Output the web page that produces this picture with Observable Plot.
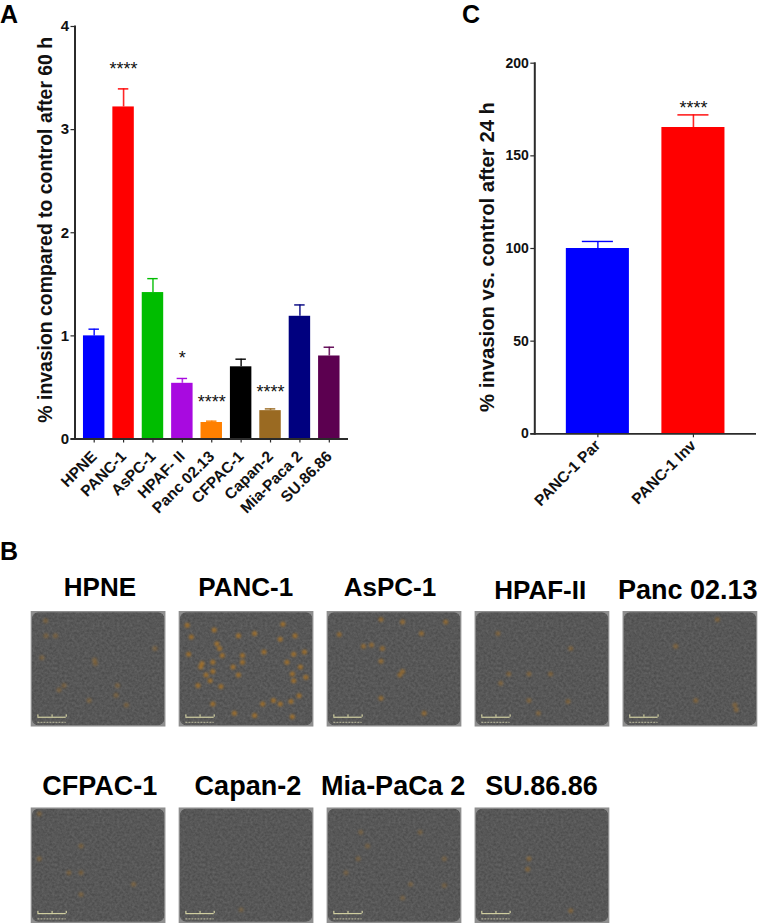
<!DOCTYPE html>
<html>
<head>
<meta charset="utf-8">
<script src="https://cdn.jsdelivr.net/npm/d3@7"></script>
<script src="https://cdn.jsdelivr.net/npm/@observablehq/plot@0.6"></script>
<style>
  html, body { margin: 0; padding: 0; background: #fff; }
  #figure { position: relative; width: 758px; height: 923px; overflow: hidden; font-family: "Liberation Sans", Arial, sans-serif; }
  #figure > svg, #figure > figure { position: absolute; margin: 0; }
  .letter { position: absolute; font-weight: 700; font-size: 25px; line-height: normal; color: #000; }
  .grain { filter: url(#grain); }
  .blob { filter: blur(1.2px); }
  .soft { filter: blur(0.4px); }
</style>
</head>
<body>
<svg width="0" height="0" style="position:absolute">
  <defs>
    <filter id="grain" x="0" y="0" width="100%" height="100%" color-interpolation-filters="sRGB">
      <feTurbulence type="fractalNoise" baseFrequency="0.4" numOctaves="2" seed="7" result="n"/>
      <feColorMatrix in="n" type="matrix" values="1 0 0 0 0  1 0 0 0 0  1 0 0 0 0  0 0 0 0 1" result="g"/>
      <feComposite in="SourceGraphic" in2="g" operator="arithmetic" k1="0" k2="1" k3="0.14" k4="-0.085" result="c"/>
      <feComposite in="c" in2="SourceGraphic" operator="in"/>
    </filter>
  </defs>
</svg>
<div id="figure"></div>
<script>
// Panel A
const linesA = ["HPNE", "PANC-1", "AsPC-1", "HPAF- II", "Panc 02.13", "CFPAC-1", "Capan-2", "Mia-Paca 2", "SU.86.86"];
const meanA = [1.0, 3.22, 1.42, 0.54, 0.16, 0.70, 0.275, 1.19, 0.805];
const upperA = [1.065, 3.395, 1.555, 0.587, 0.173, 0.774, 0.292, 1.30, 0.89];
const colorA = ["#0000ff", "#ff0000", "#00bd00", "#a80ae0", "#ff8000", "#000000", "#9a6a22", "#00007f", "#5c0050"];
const starsA = ["", "****", "", "*", "****", "", "****", "", ""];
const starYA = [0, 3.59, 0, 0.78, 0.355, 0, 0.455, 0, 0];
const ticksA = [0, 1, 2, 3, 4];
const labelA = "% invasion compared to control after 60 h";

// Panel C
const linesC = ["PANC-1 Par", "PANC-1 Inv"];
const meanC = [100, 165.3];
const upperC = [103.8, 172.1];
const colorC = ["#0000ff", "#ff0000"];
const starsC = ["", "****"];
const starYC = [0, 175.5];
const ticksC = [0, 50, 100, 150, 200];
const labelC = "% invasion vs. control after 24 h";

// Panel B: micrograph tiles, with the stained spots (percent across, percent down)
const tileNames = ["HPNE", "PANC-1", "AsPC-1", "HPAF-II", "Panc 02.13", "CFPAC-1", "Capan-2", "Mia-PaCa 2", "SU.86.86"];
const titleAcross = [51, 49.4, 46.6, 48.3, 48, 50.8, 51, 49, 49.3];
const stainStrength = [0.3, 0.62, 0.5, 0.34, 0.36, 0.3, 0.25, 0.26, 0.36];
const spots = [
  [[47.6,45],[47,42],[24.4,64],[20.7,68],[91.8,32],[8,40],[10.7,8],[63,72.6],[70.6,81],[43,77],[64,64],[11,21],[18,21]],
  [[6,12],[26,16],[9,22],[28,28],[30,32],[7,37],[17,45],[16,48],[25,44],[32,38],[40,48],[47,38],[44,21],[56,19],[77,11],[75,24],[86,21],[63,35],[85,37],[93,35],[80,44],[90,48],[84,54],[85,60],[94,57],[89,73],[83,78],[75,80],[25,80],[14,64],[20,55],[25,52],[23,60],[31,65],[47,44],[41,88],[56,90],[62,80],[70,77],[84,91],[44,55]],
  [[40,7],[9,20],[27,30],[33,29],[41,32],[70,19],[88,9],[56,52],[54,55],[40,75],[40,43],[56,9],[72,88]],
  [[19,62],[25,54],[40,77],[69,78],[71,32],[47,88],[17,19],[40,54],[56,54]],
  [[54,77],[83,81],[84,85],[39,30],[70,7]],
  [[37,33],[37,56],[28,56],[6,44],[76,66],[37,75],[6,5]],
  [[46,88]],
  [[23,44],[87,44],[69,21],[25,21],[56,78],[14,56],[87,67],[62,66],[30,33]],
  [[40,44],[39,53],[71,89]]
];
const scaleBarFrom = 5;
const scaleBarTo = 26;
const scaleBarTicks = [5, 15.5, 26];

const dark = "#2b2b2b";
const font = '"Liberation Sans", Arial, sans-serif';

function barPanel(o) {
  const rows = o.lines.map((name, i) => ({name, mean: o.mean[i], upper: o.upper[i], color: o.color[i], star: o.stars[i], starY: o.starY[i]}));
  return Plot.plot({
    width: o.width, height: o.height,
    marginLeft: o.ml, marginRight: o.mr, marginTop: o.mt, marginBottom: o.mb,
    style: {fontFamily: font, background: "transparent", overflow: "visible"},
    x: {domain: o.lines, paddingInner: o.pi, paddingOuter: o.po, round: false, label: null},
    y: {domain: o.yDomain, label: null},
    marks: [
      Plot.barY(rows, {x: "name", y: "mean", fill: d => d.color}),
      Plot.ruleX(rows, {x: "name", y1: "mean", y2: "upper", stroke: d => d.color, strokeWidth: 1.6, strokeOpacity: 0.85}),
      Plot.tickY(rows, {x: "name", y: "upper", stroke: d => d.color, strokeWidth: 1.4, insetLeft: o.capInset, insetRight: o.capInset}),
      Plot.text(rows.filter(d => d.star), {x: "name", y: "starY", text: "star", fontSize: 18, fill: "#111", textAnchor: "middle"}),
      Plot.frame({anchor: "left", stroke: dark, strokeWidth: 2}),
      Plot.ruleY([0], {stroke: dark, strokeWidth: 1.8, insetLeft: -4}),
      Plot.axisY({ticks: o.ticks, tickSize: 4, tickPadding: 2, fontSize: o.yFont, fontWeight: 700, fill: "#111", stroke: dark, strokeWidth: 1.2, label: null, tickFormat: d => String(d)}),
      Plot.axisX({tickSize: 4, tickPadding: o.xPad, tickRotate: -45, fontSize: o.xFont, fontWeight: 700, fill: "#111", stroke: dark, strokeWidth: 1.2, label: null}),
      Plot.text([o.label], {frameAnchor: "left", dx: o.labelDx, dy: o.labelDy, rotate: -90, fontSize: o.labelFont, fontWeight: 700, fill: "#111", textAnchor: "middle"})
    ]
  });
}

const figure = document.getElementById("figure");

function place(node, left, top) {
  node.style.left = left + "px";
  node.style.top = top + "px";
  figure.appendChild(node);
}

place(barPanel({
  lines: linesA, mean: meanA, upper: upperA, color: colorA, stars: starsA, starY: starYA, ticks: ticksA, label: labelA,
  width: 358, height: 520, ml: 74.5, mr: 10, mt: 26, mb: 81.5, pi: 0.27, po: 0.288, yDomain: [0, 4],
  capInset: 5.5, yFont: 15, xFont: 15.5, xPad: 11, labelFont: 19.4, labelDx: -29, labelDy: -3
}), 0, 0);

place(barPanel({
  lines: linesC, mean: meanC, upper: upperC, color: colorC, stars: starsC, starY: starYC, ticks: ticksC, label: labelC,
  width: 318, height: 530, ml: 94.3, mr: 2, mt: 62.7, mb: 96.7, pi: 0.34, po: 0.33, yDomain: [0, 200],
  capInset: 16, yFont: 14, xFont: 15.5, xPad: 5, labelFont: 20.3, labelDx: -47.5, labelDy: 8.5
}), 440, 0);

// Panel B
const tiles = tileNames.map((name, i) => ({name, col: i % 5, row: i < 5 ? 0 : 1, across: titleAcross[i]}));
const spotRows = spots.flatMap((list, i) => list.map(([x, y]) => ({x, y, col: tiles[i].col, row: tiles[i].row, strength: stainStrength[i]})));
const bars = tiles.map(t => ({col: t.col, row: t.row}));
const barTicks = tiles.flatMap(t => scaleBarTicks.map(x => ({x, col: t.col, row: t.row})));

const panelB = Plot.plot({
  width: 758, height: 353,
  marginLeft: 30.7, marginRight: 0.7, marginTop: 41, marginBottom: 0,
  style: {fontFamily: font, background: "transparent", overflow: "visible"},
  fx: {domain: [0, 1, 2, 3, 4], paddingInner: 0.0893, paddingOuter: 0, round: false, label: null, axis: null},
  fy: {domain: [0, 1], paddingInner: 0.412, paddingOuter: 0, round: false, label: null, axis: null},
  x: {domain: [0, 100], axis: null},
  y: {domain: [100, 0], axis: null},
  marks: [
    Plot.rect(tiles, {fx: "col", fy: "row", x1: () => 0, x2: () => 100, y1: () => 0, y2: () => 100, fill: "#8e8e8e"}),
    Plot.rect(tiles, {fx: "col", fy: "row", x1: () => 0, x2: () => 100, y1: () => 0, y2: () => 100, inset: 1.2, rx: 6, fill: "#5b5b5b", className: "grain"}),
    Plot.dot(spotRows, {fx: "col", fy: "row", x: "x", y: "y", r: 2.5, fill: "#c07a18", fillOpacity: "strength", stroke: "none", className: "blob"}),
    Plot.ruleY(bars, {fx: "col", fy: "row", y: () => 91.5, x1: () => scaleBarFrom, x2: () => scaleBarTo, stroke: "#e8e6b0", strokeWidth: 1, className: "soft"}),
    Plot.ruleY(bars, {fx: "col", fy: "row", y: () => 96, x1: () => scaleBarFrom, x2: () => scaleBarTo, stroke: "#c9c8a8", strokeWidth: 1.4, strokeDasharray: "2 1", strokeOpacity: 0.7, className: "soft"}),
    Plot.ruleX(barTicks, {fx: "col", fy: "row", x: "x", y1: () => 89.5, y2: () => 91.5, stroke: "#e8e6b0", strokeWidth: 1, className: "soft"}),
    Plot.text(tiles, {fx: "col", fy: "row", x: "across", y: d => d.row === 0 && d.col >= 3 ? -10.5 : d.row === 0 ? -13.5 : -11, text: "name", fontSize: d => (d.row === 1 || d.col === 4 ? 27 : 26), fontWeight: 700, fill: "#000", textAnchor: "middle", lineAnchor: "bottom"})
  ]
});
place(panelB, 0, 570);

for (const [letter, left, top] of [["A", 0, 0], ["B", 0, 537], ["C", 462, 0]]) {
  const el = document.createElement("div");
  el.className = "letter";
  el.textContent = letter;
  el.style.left = left + "px";
  el.style.top = top + "px";
  figure.appendChild(el);
}
</script>
</body>
</html>
